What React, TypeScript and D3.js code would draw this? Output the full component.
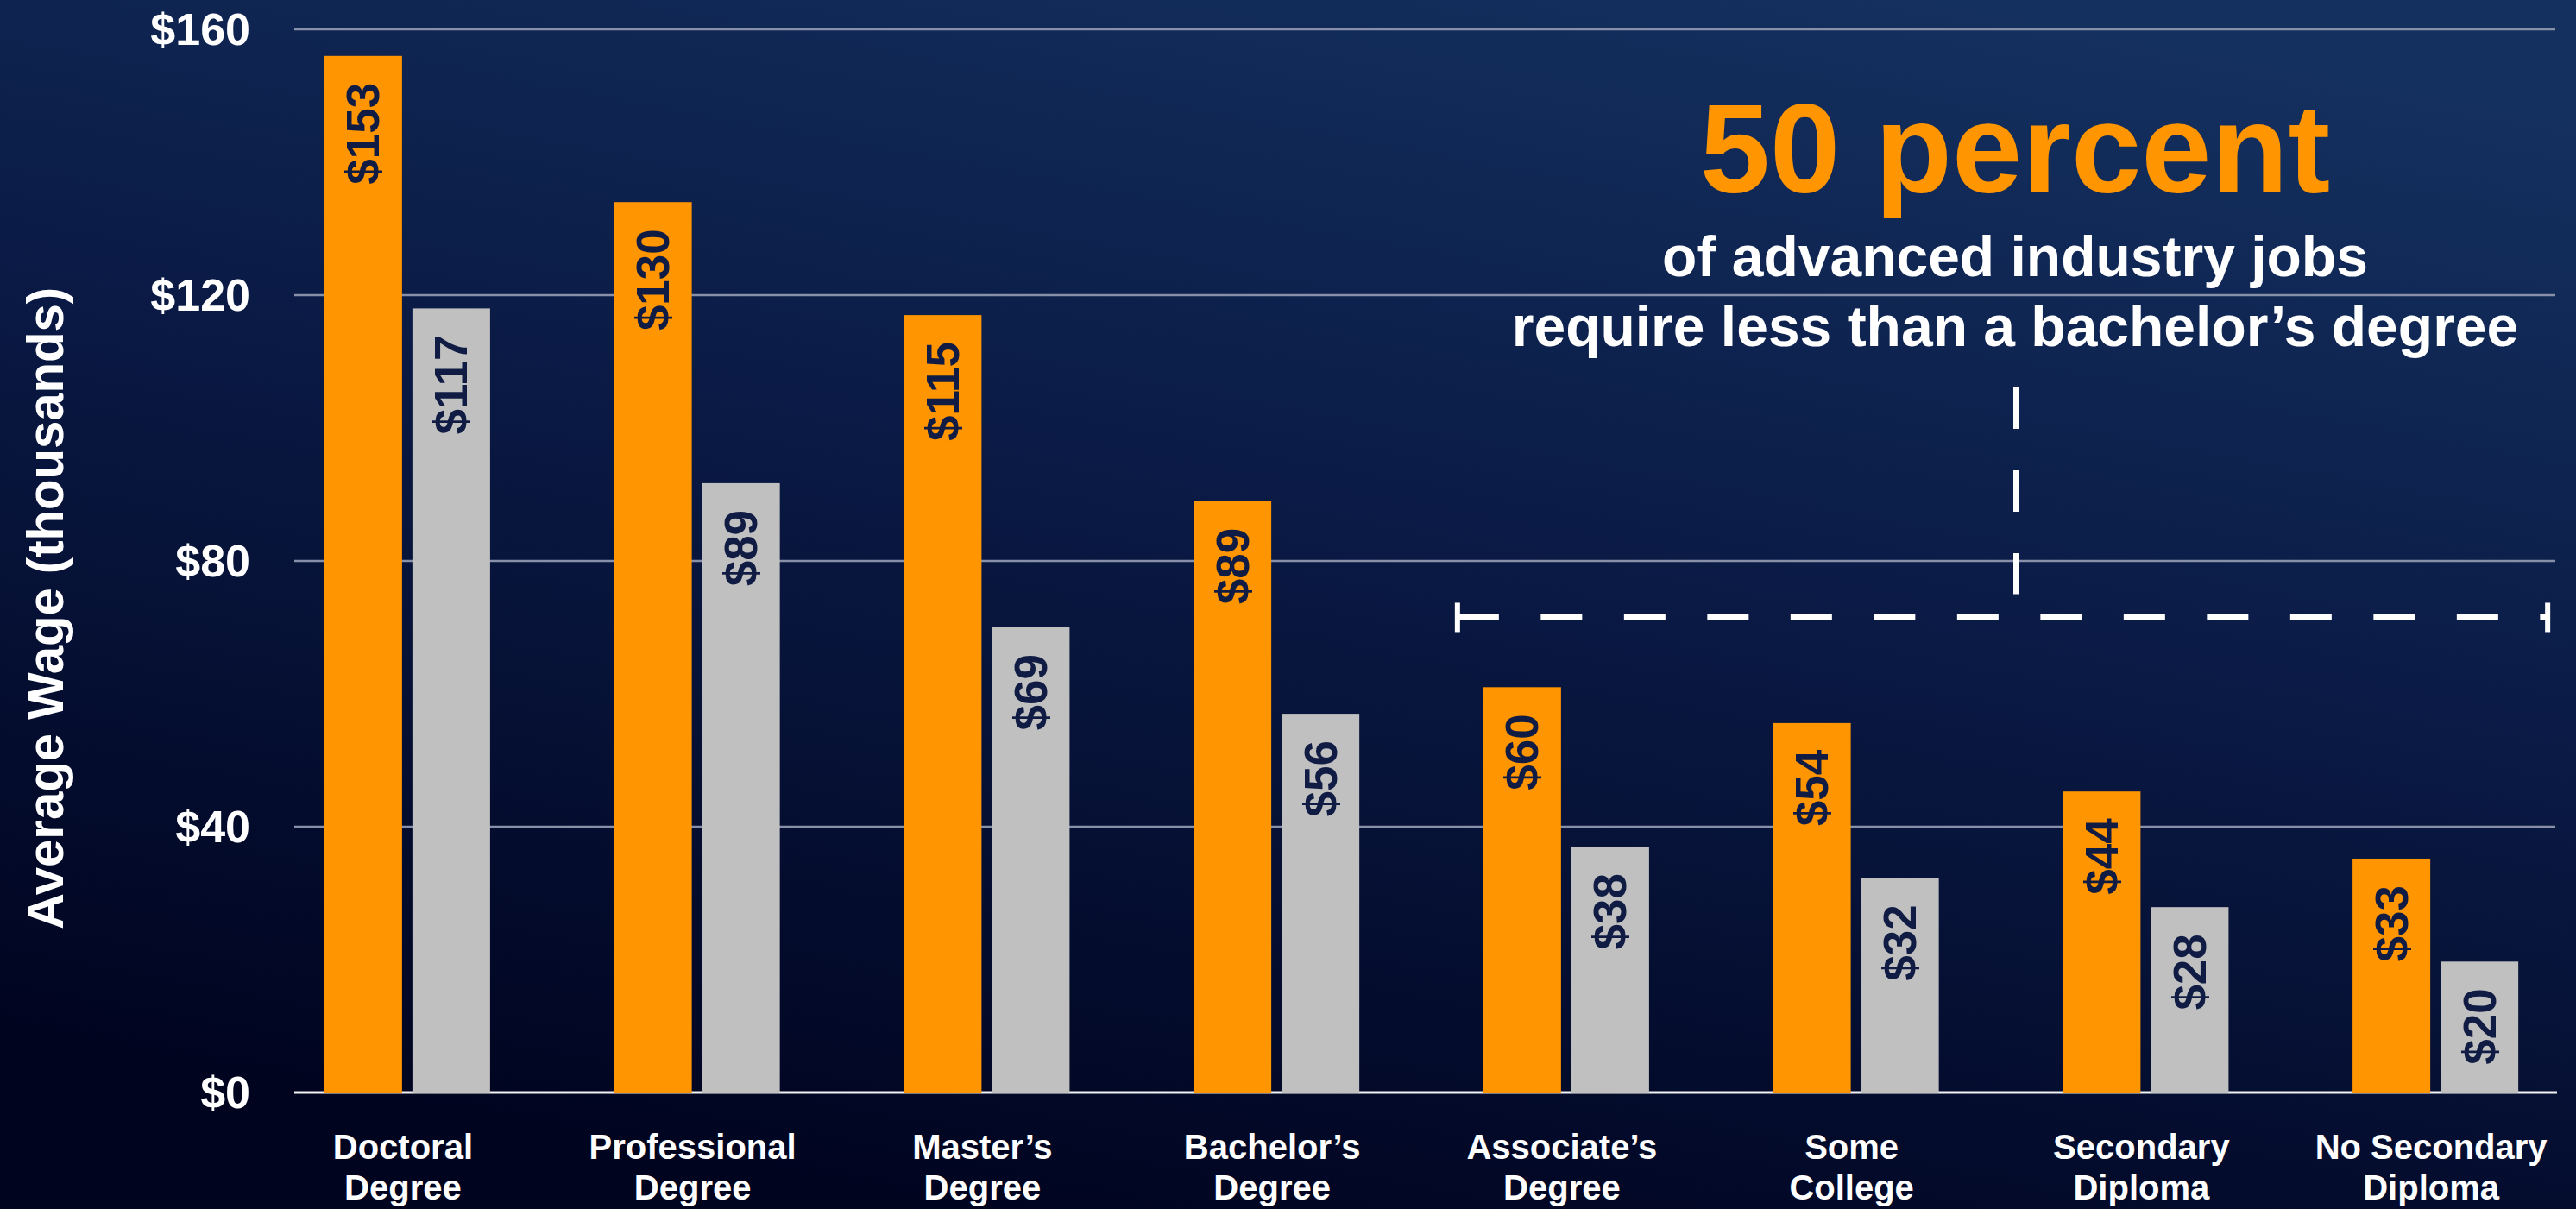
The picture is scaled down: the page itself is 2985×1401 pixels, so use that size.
import React, { useEffect, useRef } from 'react';
import * as d3 from 'd3';

// education levels, two lines each
const categories = [
  "Doctoral\nDegree",
  "Professional\nDegree",
  "Master’s\nDegree",
  "Bachelor’s\nDegree",
  "Associate’s\nDegree",
  "Some\nCollege",
  "Secondary\nDiploma",
  "No Secondary\nDiploma",
];

// bar heights as drawn (thousands of $)
const advancedWage = [156, 134, 117, 89, 61, 55.6, 45.3, 35.2];
const allWage = [118, 91.7, 70, 57, 37, 32.3, 27.9, 19.7];

// printed value labels
const advancedLabels = ["$153", "$130", "$115", "$89", "$60", "$54", "$44", "$33"];
const allLabels = ["$117", "$89", "$69", "$56", "$38", "$32", "$28", "$20"];

const yTicks = [0, 40, 80, 120, 160];
const seriesKeys = ["advanced", "all"];
const seriesColors = ["#ff9500", "#c0c0c0"];

const headline = "50 percent";
const subLines = ["of advanced industry jobs", "require less than a bachelor’s degree"];
const yTitle = "Average Wage (thousands)";

const W = 2985;
const H = 1401;
const FONT = "'Liberation Sans', Arial, Helvetica, sans-serif";

const WageChart = () => {
  const ref = useRef<SVGSVGElement>(null);

  useEffect(() => {
    document.body.style.margin = "0";
    document.body.style.overflow = "hidden";

    const svg = d3.select(ref.current);
    svg.selectAll("*").remove();

    const defs = svg.append("defs");
    const grad = defs.append("linearGradient")
      .attr("id", "bg")
      .attr("x1", 0.75).attr("y1", 0)
      .attr("x2", 0.35).attr("y2", 1);
    grad.append("stop").attr("offset", 0).attr("stop-color", "#14305f");
    grad.append("stop").attr("offset", 0.45).attr("stop-color", "#0a1a45");
    grad.append("stop").attr("offset", 1).attr("stop-color", "#00041f");

    svg.append("rect").attr("width", W).attr("height", H).attr("fill", "url(#bg)");

    const y = d3.scaleLinear().domain([0, 160]).range([1266, 34]);
    const x0 = d3.scaleBand<string>()
      .domain(categories)
      .range([304, 2990])
      .paddingInner(0.428)
      .paddingOuter(0.214);
    const x1 = d3.scaleBand<string>()
      .domain(seriesKeys)
      .range([0, x0.bandwidth()])
      .paddingInner(0.1176);

    const gridLeft = 341;
    const gridRight = 2961;

    // gridlines
    svg.append("g")
      .selectAll("line")
      .data(yTicks.filter(t => t > 0))
      .join("line")
      .attr("x1", gridLeft).attr("x2", gridRight)
      .attr("y1", d => y(d)).attr("y2", d => y(d))
      .attr("stroke", "#8790a8")
      .attr("stroke-width", 2.5);

    // baseline
    svg.append("line")
      .attr("x1", gridLeft).attr("x2", gridRight + 2)
      .attr("y1", y(0)).attr("y2", y(0))
      .attr("stroke", "#f2f2f2")
      .attr("stroke-width", 3);

    // y tick labels
    svg.append("g")
      .selectAll("text")
      .data(yTicks)
      .join("text")
      .attr("x", 290)
      .attr("y", d => y(d))
      .attr("dy", "0.35em")
      .attr("text-anchor", "end")
      .attr("fill", "#ffffff")
      .attr("font-family", FONT)
      .attr("font-weight", "bold")
      .attr("font-size", 52)
      .text(d => `$${d}`);

    // y title
    svg.append("text")
      .attr("transform", "translate(73,705) rotate(-90)")
      .attr("text-anchor", "middle")
      .attr("fill", "#ffffff")
      .attr("font-family", FONT)
      .attr("font-weight", "bold")
      .attr("font-size", 60)
      .attr("textLength", 744)
      .attr("lengthAdjust", "spacingAndGlyphs")
      .text(yTitle);

    const series = [
      { key: "advanced", values: advancedWage, labels: advancedLabels },
      { key: "all", values: allWage, labels: allLabels },
    ];

    const barData = categories.flatMap((c, i) =>
      series.map((s, si) => ({
        cat: c,
        key: s.key,
        value: s.values[i],
        label: s.labels[i],
        color: seriesColors[si],
      }))
    );

    const bars = svg.append("g");
    bars.selectAll("rect")
      .data(barData)
      .join("rect")
      .attr("x", d => (x0(d.cat) ?? 0) + (x1(d.key) ?? 0))
      .attr("y", d => y(d.value))
      .attr("width", x1.bandwidth())
      .attr("height", d => y(0) - y(d.value))
      .attr("fill", d => d.color);

    bars.selectAll("text")
      .data(barData)
      .join("text")
      .attr("transform", d => {
        const cx = (x0(d.cat) ?? 0) + (x1(d.key) ?? 0) + x1.bandwidth() / 2;
        return `translate(${cx},${y(d.value) + 31}) rotate(-90)`;
      })
      .attr("dy", "0.35em")
      .attr("text-anchor", "end")
      .attr("fill", "#101c44")
      .attr("font-family", FONT)
      .attr("font-weight", "bold")
      .attr("font-size", 53)
      .text(d => d.label);

    // category labels
    const catG = svg.append("g")
      .selectAll("text")
      .data(categories)
      .join("text")
      .attr("text-anchor", "middle")
      .attr("fill", "#ffffff")
      .attr("font-family", FONT)
      .attr("font-weight", "bold")
      .attr("font-size", 40);
    catG.each(function (d) {
      const cx = (x0(d) ?? 0) + x0.bandwidth() / 2 - 5;
      d3.select(this).selectAll("tspan")
        .data(d.split("\n"))
        .join("tspan")
        .attr("x", cx)
        .attr("y", (_, i) => 1343 + i * 47)
        .text(t => t);
    });

    // annotation
    const annoX = 2335;
    svg.append("text")
      .attr("x", annoX).attr("y", 223)
      .attr("text-anchor", "middle")
      .attr("fill", "#ff9500")
      .attr("font-family", FONT)
      .attr("font-weight", "bold")
      .attr("font-size", 146)
      .text(headline);

    svg.append("g")
      .selectAll("text")
      .data(subLines)
      .join("text")
      .attr("x", annoX)
      .attr("y", (_, i) => 320 + i * 81)
      .attr("text-anchor", "middle")
      .attr("fill", "#ffffff")
      .attr("font-family", FONT)
      .attr("font-weight", "bold")
      .attr("font-size", 66)
      .text(d => d);

    // bracket over the sub-bachelor categories
    const bLeft = (x0(categories[4]) ?? 0) - 30;
    const bRight = (x0(categories[categories.length - 1]) ?? 0) + x0.bandwidth() + 34;
    const bY = y(71.5);

    const anno = svg.append("g").attr("stroke", "#ffffff");
    anno.append("line")
      .attr("x1", annoX + 1).attr("x2", annoX + 1)
      .attr("y1", 449).attr("y2", bY - 27)
      .attr("stroke-width", 6)
      .attr("stroke-dasharray", "48 48");
    anno.append("line")
      .attr("x1", bLeft).attr("x2", bRight)
      .attr("y1", bY).attr("y2", bY)
      .attr("stroke-width", 7)
      .attr("stroke-dasharray", "48 48.5");
    anno.selectAll("line.tick")
      .data([bLeft, bRight])
      .join("line")
      .attr("class", "tick")
      .attr("x1", d => d).attr("x2", d => d)
      .attr("y1", bY - 17).attr("y2", bY + 17)
      .attr("stroke-width", 6);
  }, []);

  return (
    <svg
      ref={ref}
      width={W}
      height={H}
      style={{ position: 'absolute', left: 0, top: 0, display: 'block' }}
    ></svg>
  );
};

export default function App() {
  return <WageChart />;
}
